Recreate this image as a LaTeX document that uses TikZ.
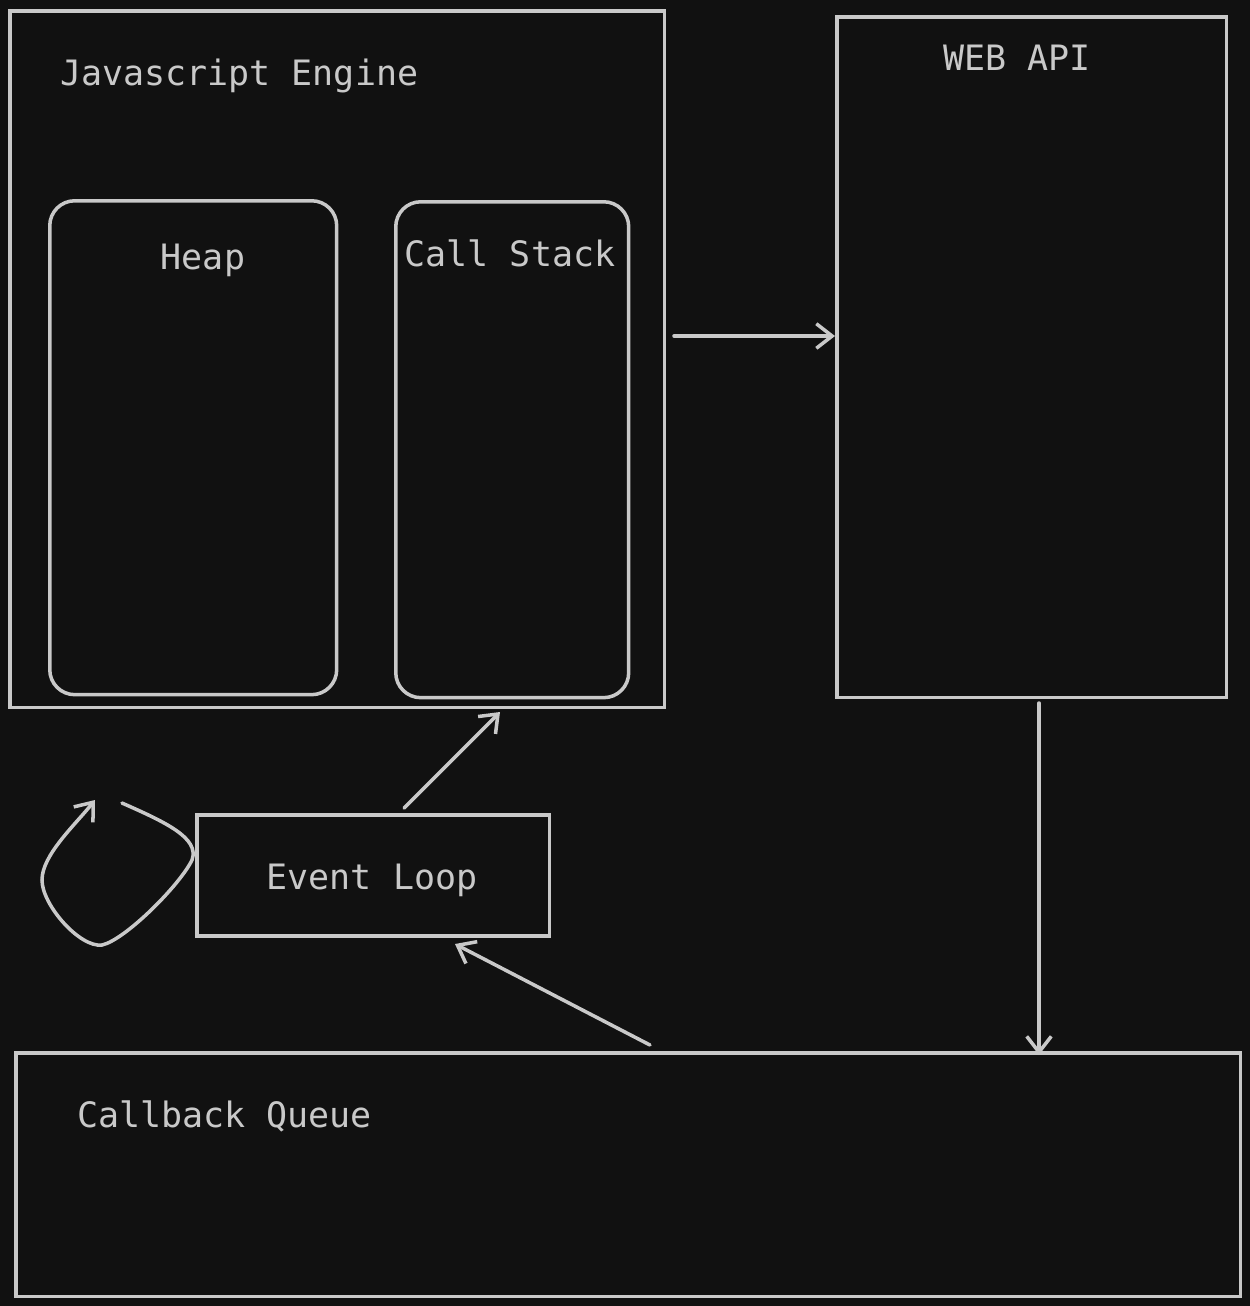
\documentclass[tikz,border=0pt]{standalone}
\usepackage{fontspec}
\setmonofont{DejaVu Sans Mono}
\usepackage{xcolor}
\usetikzlibrary{arrows.meta, positioning}
\definecolor{bgdark}{HTML}{111111}
\definecolor{linegray}{HTML}{C9C9C9}
\newcommand{\diafont}{\ttfamily\fontsize{19.9}{23}\selectfont}
\tikzstyle{arrow} = [line width=2pt, draw=linegray, line cap=round, ->, >={Straight Barb[length=9pt,width=14pt]}]
\tikzstyle{box} = [rectangle, draw=linegray, line width=2pt, anchor=north west, inner sep=0pt]
\tikzstyle{roundbox} = [box, rounded corners=0.5cm]
\tikzstyle{label} = [text=linegray, font=\diafont, inner sep=0pt]

\begin{document}
\begin{tikzpicture}[x=0.02cm, y=-0.02cm]
    \fill[bgdark] (0,0) rectangle (1250,1306);
    \useasboundingbox (0,0) rectangle (1250,1306);

    % boxes
    \node (engine)    [box,      minimum width=13.1cm, minimum height=13.94cm] at (8,9) {};
    \node (heap)      [roundbox, minimum width=5.74cm, minimum height=9.88cm]  at (48,199) {};
    \node (callstack) [roundbox, minimum width=4.66cm, minimum height=9.92cm]  at (394,200) {};
    \node (webapi)    [box,      minimum width=7.8cm,  minimum height=13.62cm] at (835,15) {};
    \node (eventloop) [box,      minimum width=7.06cm, minimum height=2.42cm]  at (195,813) {};
    \node (queue)     [box,      minimum width=24.5cm, minimum height=4.88cm]  at (14,1051) {};

    % texts
    \node (enginetxt) [label, anchor=base west] at (60,85)   {Javascript Engine};
    \node (heaptxt)   [label, anchor=base]      at (203,269) {Heap};
    \node (stacktxt)  [label, anchor=base]      at (510,266) {Call Stack};
    \node (apitxt)    [label, anchor=base]      at (1017,70) {WEB API};
    \node (looptxt)   [label, anchor=base]      at (372,889) {Event Loop};
    \node (queuetxt)  [label, anchor=base west] at (77,1127) {Callback Queue};

    % free ends
    \coordinate (engout)  at (674,336);
    \coordinate (apiout)  at (1039,703);
    \coordinate (loopout) at (404,808);
    \coordinate (stackin) at (500,712);
    \coordinate (queout)  at (650,1045);
    \coordinate (loopin)  at (455,944);
    \coordinate (spina)   at (122,803);
    \coordinate (spinb)   at (95,800);

    \draw [arrow] (engout)  -- (engout -| webapi.west);
    \draw [arrow] (apiout)  -- ([yshift=-0.08cm]apiout |- queue.north);
    \draw [arrow] (loopout) -- (stackin);
    \draw [arrow] (queout)  -- (loopin);
    \draw [arrow] (spina) .. controls (165,822) and (200,838) .. (192,860)
        .. controls (180,885) and (125,940) .. (102,945)
        .. controls (80,948) and (42,905) .. (42,880)
        .. controls (42,855) and (75,825) .. (spinb);
\end{tikzpicture}
\end{document}
